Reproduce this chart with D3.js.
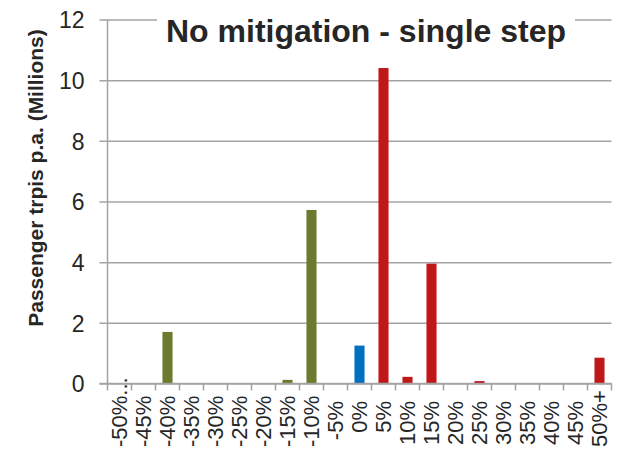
<!DOCTYPE html>
<html>
<head>
<meta charset="utf-8">
<script src="https://cdn.jsdelivr.net/npm/d3@7"></script>
<style>
  html, body { margin: 0; padding: 0; background: #fff; }
  svg { display: block; font-family: "Liberation Sans", Arial, sans-serif; }
</style>
</head>
<body>
<svg id="chart" width="618" height="457"></svg>
<script>
// Change in passenger trips, grouped into 5% bands
const categories = ["-50%...", "-45%", "-40%", "-35%", "-30%", "-25%", "-20%", "-15%", "-10%", "-5%",
  "0%", "5%", "10%", "15%", "20%", "25%", "30%", "35%", "40%", "45%", "50%+"];
// Passenger trips per annum, millions
const trips = [0, 0, 1.70, 0, 0, 0, 0, 0.12, 5.72, 0, 1.25, 10.40, 0.22, 3.95, 0, 0.08, 0, 0, 0, 0, 0.85];
const yTicks = [0, 2, 4, 6, 8, 10, 12];
const titleText = "No mitigation - single step";
const yTitle = "Passenger trpis p.a. (Millions)";

const gridColor = "#a3a3a3";
const textColor = "#262626";
const colorFor = label => {
  const v = parseFloat(label);
  if (v < 0) return "#6a7a2e";
  if (v === 0) return "#0070c0";
  return "#c01818";
};

const svg = d3.select("#chart");
const plot = { left: 107.5, right: 611.5, top: 19.5, bottom: 383.5 };

const x = d3.scaleBand().domain(categories).range([plot.left, plot.right]).padding(0);
const y = d3.scaleLinear().domain([0, 12]).range([plot.bottom, plot.top]);

// White backing for the chart title, drawn first so the gridline under it is hidden
const titleBack = svg.append("rect").attr("fill", "#fff");

// Horizontal gridlines with their outer tick marks and labels
const yAxis = d3.axisLeft(y).tickValues(yTicks).tickSize(-(plot.right - plot.left)).tickPadding(0)
  .tickFormat(d3.format("d"));
const gy = svg.append("g").attr("transform", `translate(${plot.left},0)`).call(yAxis);
gy.select(".domain").remove();
gy.selectAll(".tick line").attr("x1", -8).attr("stroke", gridColor).attr("stroke-width", 1.5);
gy.selectAll(".tick text").attr("x", -23).attr("fill", textColor)
  .attr("font-size", 23).attr("dy", "0.36em").attr("font-family", "Liberation Sans, Arial, sans-serif");

// Vertical axis line
svg.append("line")
  .attr("x1", plot.left).attr("x2", plot.left)
  .attr("y1", plot.top).attr("y2", plot.bottom + 7)
  .attr("stroke", gridColor).attr("stroke-width", 1.5);

// Bars
const barW = x.bandwidth() * 0.42;
svg.append("g").selectAll("rect")
  .data(categories.map((c, i) => ({ c, v: trips[i] })).filter(d => d.v > 0))
  .join("rect")
  .attr("x", d => x(d.c) + (x.bandwidth() - barW) / 2)
  .attr("width", barW)
  .attr("y", d => y(d.v))
  .attr("height", d => y(0) - y(d.v))
  .attr("fill", d => colorFor(d.c));

// Category axis: baseline, boundary ticks, rotated labels
svg.append("line")
  .attr("x1", plot.left - 8).attr("x2", plot.right)
  .attr("y1", plot.bottom).attr("y2", plot.bottom)
  .attr("stroke", gridColor).attr("stroke-width", 1.5);
const bounds = categories.map(c => x(c) + x.bandwidth());
svg.append("g").selectAll("line")
  .data(bounds)
  .join("line")
  .attr("x1", d => d).attr("x2", d => d)
  .attr("y1", plot.bottom).attr("y2", plot.bottom + 7)
  .attr("stroke", gridColor).attr("stroke-width", 1.5);

const labelTop = 401, labelBottomLimit = 447;
const labels = svg.append("g").selectAll("text")
  .data(categories)
  .join("text")
  .attr("text-anchor", "end")
  .attr("font-size", 22)
  .attr("fill", textColor)
  .attr("dy", "0.36em")
  .text(d => d);
labels.each(function (d) {
  const len = this.getComputedTextLength();
  const end = Math.min(labelTop, labelBottomLimit - len);
  d3.select(this).attr("transform", `translate(${x(d) + x.bandwidth() / 2},${end}) rotate(-90)`);
});

// Y axis title
svg.append("text")
  .attr("transform", `translate(43,178) rotate(-90)`)
  .attr("text-anchor", "middle")
  .attr("font-size", 21)
  .attr("font-weight", "bold")
  .attr("fill", textColor)
  .text(yTitle);

// Chart title
const title = svg.append("text")
  .attr("x", 366).attr("y", 42)
  .attr("text-anchor", "middle")
  .attr("font-size", 32)
  .attr("font-weight", "bold")
  .attr("fill", textColor)
  .text(titleText);
const tb = title.node().getBBox();
titleBack
  .attr("x", tb.x - 9).attr("y", tb.y)
  .attr("width", tb.width + 18).attr("height", tb.height)
  .raise();
title.raise();
</script>
</body>
</html>
